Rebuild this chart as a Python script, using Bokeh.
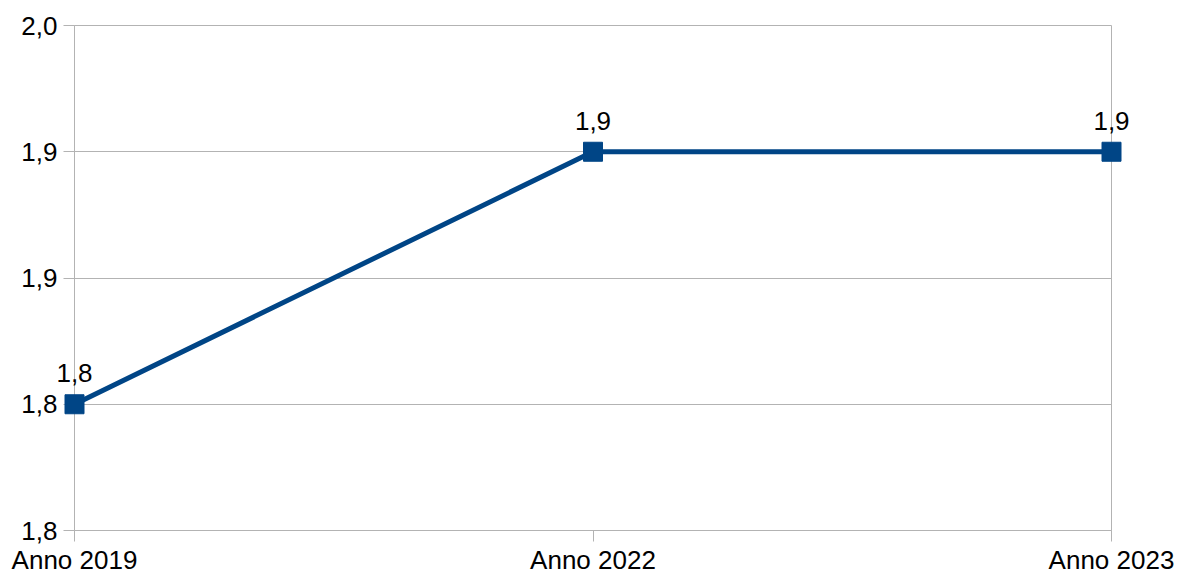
from bokeh.plotting import figure
from bokeh.models import Range1d, FixedTicker, CustomJSTickFormatter, ColumnDataSource
from bokeh.core.properties import value
from bokeh.embed import file_html
from bokeh.resources import INLINE

categories = ["Anno 2019", "Anno 2022", "Anno 2023"]
values = [1.85, 1.95, 1.95]
value_labels = ["1,8", "1,9", "1,9"]
y_tick_values = [1.8, 1.85, 1.9, 1.95, 2.0]
y_tick_labels = ["1,8", "1,8", "1,9", "1,9", "2,0"]

FONT = "Liberation Sans"
GRAY = "#b3b3b3"
BLUE = "#004586"

xs = list(range(len(categories)))
src = ColumnDataSource(dict(x=xs, y=values, lab=value_labels))

p = figure(width=1177, height=577, output_backend="svg", toolbar_location=None,
           x_range=Range1d(0, len(categories) - 1), y_range=Range1d(y_tick_values[0], y_tick_values[-1]),
           min_border_left=74, min_border_right=66, min_border_top=25, min_border_bottom=46)
p.outline_line_color = GRAY
p.background_fill_color = "white"
p.border_fill_color = "white"

p.xgrid.visible = False
p.ygrid.grid_line_color = GRAY
p.ygrid.grid_line_width = 1

p.xaxis.ticker = FixedTicker(ticks=xs)
p.xaxis.major_label_overrides = {i: c for i, c in enumerate(categories)}
p.yaxis.ticker = FixedTicker(ticks=y_tick_values)
p.yaxis.formatter = CustomJSTickFormatter(args=dict(vals=y_tick_values, labs=y_tick_labels), code="""
const i = vals.findIndex(v => Math.abs(v - tick) < 1e-9);
return i >= 0 ? labs[i] : '';
""")
for ax in (p.xaxis[0], p.yaxis[0]):
    ax.axis_line_color = GRAY
    ax.major_tick_line_color = GRAY
    ax.major_tick_in = 0
    ax.major_tick_out = 11
    ax.minor_tick_line_color = None
    ax.major_label_text_font = FONT
    ax.major_label_text_font_size = "26px"
    ax.major_label_text_color = "black"
p.xaxis.major_label_standoff = 3
p.yaxis.major_label_standoff = 6

r1 = p.line("x", "y", source=src, line_color=BLUE, line_width=5)
r2 = p.scatter("x", "y", source=src, marker="square", size=19, fill_color=BLUE, line_color=BLUE)
r3 = p.text("x", "y", text="lab", source=src, y_offset=-31, text_align="center",
            text_baseline="alphabetic", text_font=value(FONT), text_font_size="26px",
            text_color="black")
for r in (r1, r2, r3):
    r.level = "overlay"

open("out.html", "w").write(file_html(p, INLINE))
